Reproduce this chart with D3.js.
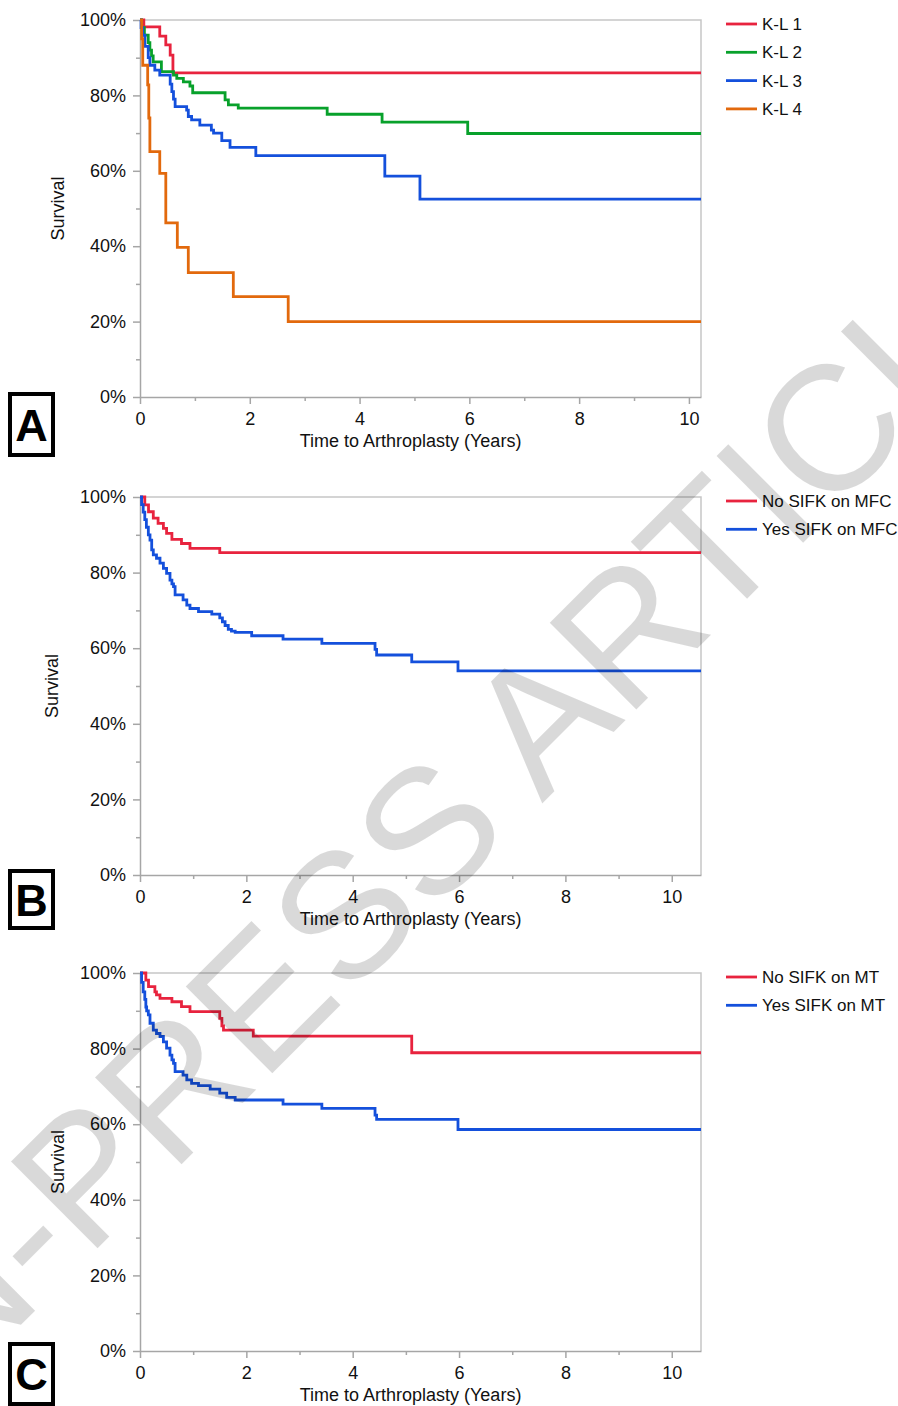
<!DOCTYPE html>
<html>
<head>
<meta charset="utf-8">
<script src="https://cdn.jsdelivr.net/npm/d3@7"></script>
<style>
  body { margin: 0; background: #fff; }
  svg { display: block; font-family: "Liberation Sans", Arial, Helvetica, sans-serif; }
</style>
</head>
<body>
<div id="chart"></div>
<script>
'use strict';

// survival steps: [years, survival]
const kl1 = [[0, 1], [0.07, 0.982], [0.36, 0.957], [0.47, 0.934], [0.55, 0.907], [0.6, 0.86]];
const kl2 = [[0, 1], [0.03, 0.98], [0.08, 0.96], [0.15, 0.94], [0.18, 0.92], [0.21, 0.905], [0.24, 0.889],
  [0.39, 0.863], [0.61, 0.854], [0.67, 0.845], [0.79, 0.836], [0.91, 0.825], [0.96, 0.807],
  [1.55, 0.788], [1.61, 0.775], [1.79, 0.766], [3.41, 0.75], [4.41, 0.729], [5.97, 0.699]];
const kl3 = [[0, 1], [0.02, 0.98], [0.05, 0.96], [0.09, 0.93], [0.15, 0.9], [0.18, 0.88], [0.27, 0.867],
  [0.36, 0.854], [0.55, 0.83], [0.58, 0.81], [0.61, 0.79], [0.64, 0.77], [0.85, 0.761], [0.88, 0.744],
  [0.94, 0.735], [1.09, 0.721], [1.3, 0.708], [1.34, 0.7], [1.49, 0.68], [1.64, 0.662], [2.11, 0.64],
  [4.46, 0.586], [5.1, 0.525]];
const kl4 = [[0, 1], [0.03, 0.95], [0.05, 0.88], [0.14, 0.828], [0.16, 0.74], [0.18, 0.651], [0.36, 0.593],
  [0.47, 0.462], [0.68, 0.397], [0.88, 0.33], [1.7, 0.266], [2.7, 0.2]];

const mfcNo = [[0, 1], [0.09, 0.979], [0.16, 0.961], [0.25, 0.944], [0.34, 0.93], [0.44, 0.917], [0.5, 0.904],
  [0.6, 0.888], [0.78, 0.877], [0.94, 0.864], [1.5, 0.853]];
const mfcYes = [[0, 1], [0.03, 0.98], [0.06, 0.96], [0.09, 0.94], [0.12, 0.92], [0.157, 0.9], [0.188, 0.886],
  [0.22, 0.86], [0.25, 0.847], [0.31, 0.838], [0.376, 0.825], [0.44, 0.811], [0.5, 0.798], [0.564, 0.78],
  [0.6, 0.77], [0.63, 0.763], [0.66, 0.741], [0.81, 0.728], [0.88, 0.714], [0.94, 0.705], [1.1, 0.697],
  [1.35, 0.69], [1.5, 0.68], [1.55, 0.67], [1.6, 0.66], [1.66, 0.65], [1.72, 0.645], [1.79, 0.642],
  [2.1, 0.633], [2.69, 0.624], [3.42, 0.613], [4.42, 0.597], [4.45, 0.582], [5.11, 0.564], [5.98, 0.54]];

const mtNo = [[0, 1], [0.11, 0.981], [0.16, 0.964], [0.28, 0.95], [0.31, 0.942], [0.376, 0.933], [0.6, 0.924],
  [0.78, 0.911], [0.94, 0.898], [1.5, 0.88], [1.54, 0.86], [1.57, 0.849], [2.13, 0.833], [5.11, 0.789]];
const mtYes = [[0, 1], [0.03, 0.975], [0.06, 0.95], [0.09, 0.93], [0.11, 0.91], [0.125, 0.9], [0.157, 0.889],
  [0.188, 0.867], [0.25, 0.849], [0.31, 0.84], [0.376, 0.832], [0.44, 0.818], [0.5, 0.801], [0.564, 0.783],
  [0.6, 0.77], [0.63, 0.761], [0.66, 0.739], [0.81, 0.73], [0.88, 0.717], [0.97, 0.708], [1.1, 0.702],
  [1.32, 0.693], [1.5, 0.682], [1.63, 0.671], [1.79, 0.664], [2.69, 0.653], [3.42, 0.642], [4.42, 0.624],
  [4.45, 0.613], [5.98, 0.586]];

const namesA = ["K-L 1", "K-L 2", "K-L 3", "K-L 4"];
const namesB = ["No SIFK on MFC", "Yes SIFK on MFC"];
const namesC = ["No SIFK on MT", "Yes SIFK on MT"];
const yTicks = [0, 0.2, 0.4, 0.6, 0.8, 1];
const yMinor = [0.1, 0.3, 0.5, 0.7, 0.9];
const xTicks = [0, 2, 4, 6, 8, 10];
const xMinor = [1, 3, 5, 7, 9];

const RED = "#e8233e", GREEN = "#08a12b", BLUE = "#1450dc", ORANGE = "#e2690d";

const W = 898, H = 1406;
const svg = d3.select("#chart").append("svg").attr("width", W).attr("height", H);

const panels = [
  { letter: "A", top: 20, bottom: 397, xmax: 10.22, series: [kl1, kl2, kl3, kl4], names: namesA,
    colors: [RED, GREEN, BLUE, ORANGE], ylabX: 58, box: [10, 394, 43, 61] },
  { letter: "B", top: 497, bottom: 875, xmax: 10.55, series: [mfcNo, mfcYes], names: namesB,
    colors: [RED, BLUE], ylabX: 52, box: [10, 871, 43, 57] },
  { letter: "C", top: 973, bottom: 1351, xmax: 10.55, series: [mtNo, mtYes], names: namesC,
    colors: [RED, BLUE], ylabX: 58, box: [10, 1344, 43, 60] }
];

const left = 140, right = 701;

panels.forEach(p => {
  const x = d3.scaleLinear().domain([0, p.xmax]).range([left, right]);
  const y = d3.scaleLinear().domain([0, 1]).range([p.bottom, p.top]);
  const g = svg.append("g");

  // frame top / right
  g.append("path")
    .attr("d", `M${left},${p.top}H${right}V${p.bottom}`)
    .attr("fill", "none").attr("stroke", "#c6c6c6").attr("stroke-width", 1.5);

  // minor ticks
  g.append("g").attr("transform", `translate(${left},0)`)
    .call(d3.axisLeft(y).tickValues(yMinor).tickSize(4).tickFormat(""))
    .call(a => a.select(".domain").remove());
  g.append("g").attr("transform", `translate(0,${p.bottom})`)
    .call(d3.axisBottom(x).tickValues(xMinor).tickSize(4).tickFormat(""))
    .call(a => a.select(".domain").remove());

  const ya = g.append("g").attr("transform", `translate(${left},0)`)
    .call(d3.axisLeft(y).tickValues(yTicks).tickFormat(d3.format(".0%")).tickSize(7).tickPadding(7).tickSizeOuter(0));
  const xa = g.append("g").attr("transform", `translate(0,${p.bottom})`)
    .call(d3.axisBottom(x).tickValues(xTicks).tickFormat(d3.format("d")).tickSize(7).tickPadding(8).tickSizeOuter(0));

  [ya, xa].forEach(a => {
    a.selectAll("text").attr("font-size", 18).attr("fill", "#111").attr("font-family", null);
  });
  g.selectAll(".domain, .tick line").attr("stroke", "#a6a6a6").attr("stroke-width", 1.5);

  // step curves
  const line = d3.line().x(d => x(d[0])).y(d => y(d[1])).curve(d3.curveStepAfter);
  p.series.forEach((s, i) => {
    const pts = s.concat([[p.xmax, s[s.length - 1][1]]]);
    g.append("path").datum(pts)
      .attr("d", line)
      .attr("fill", "none")
      .attr("stroke", p.colors[i])
      .attr("stroke-width", 2.8);
  });

  // axis titles
  g.append("text")
    .attr("x", (left + right) / 2 - 10).attr("y", p.bottom + 50)
    .attr("text-anchor", "middle").attr("font-size", 18).attr("fill", "#111")
    .text("Time to Arthroplasty (Years)");
  g.append("text")
    .attr("transform", `translate(${p.ylabX},${(p.top + p.bottom) / 2}) rotate(-90)`)
    .attr("text-anchor", "middle").attr("dy", "0.35em")
    .attr("font-size", 18).attr("fill", "#111")
    .text("Survival");

  // legend
  const lg = g.append("g").attr("transform", `translate(726,${p.top + 4})`);
  p.names.forEach((n, i) => {
    const row = lg.append("g").attr("transform", `translate(0,${i * 28.3})`);
    row.append("line").attr("x1", 0).attr("x2", 31).attr("y1", 0).attr("y2", 0)
      .attr("stroke", p.colors[i]).attr("stroke-width", 2.8);
    row.append("text").attr("x", 36).attr("dy", "0.35em")
      .attr("font-size", 17).attr("fill", "#111").text(n);
  });

  // panel letter
  const [bx, by, bw, bh] = p.box;
  g.append("rect").attr("x", bx).attr("y", by).attr("width", bw).attr("height", bh)
    .attr("fill", "#fff").attr("stroke", "#000").attr("stroke-width", 4);
  g.append("text")
    .attr("x", bx + bw / 2).attr("y", by + bh / 2).attr("dy", "0.36em")
    .attr("text-anchor", "middle").attr("font-size", 45).attr("font-weight", "bold")
    .text(p.letter);
});

// watermark
svg.append("text")
  .attr("transform", "translate(450,805) rotate(-45)")
  .attr("text-anchor", "middle").attr("dy", "0.36em")
  .attr("font-size", 178)
  .attr("fill", "#000").attr("fill-opacity", 0.15)
  .text("IN-PRESS ARTICLE");
</script>
</body>
</html>
